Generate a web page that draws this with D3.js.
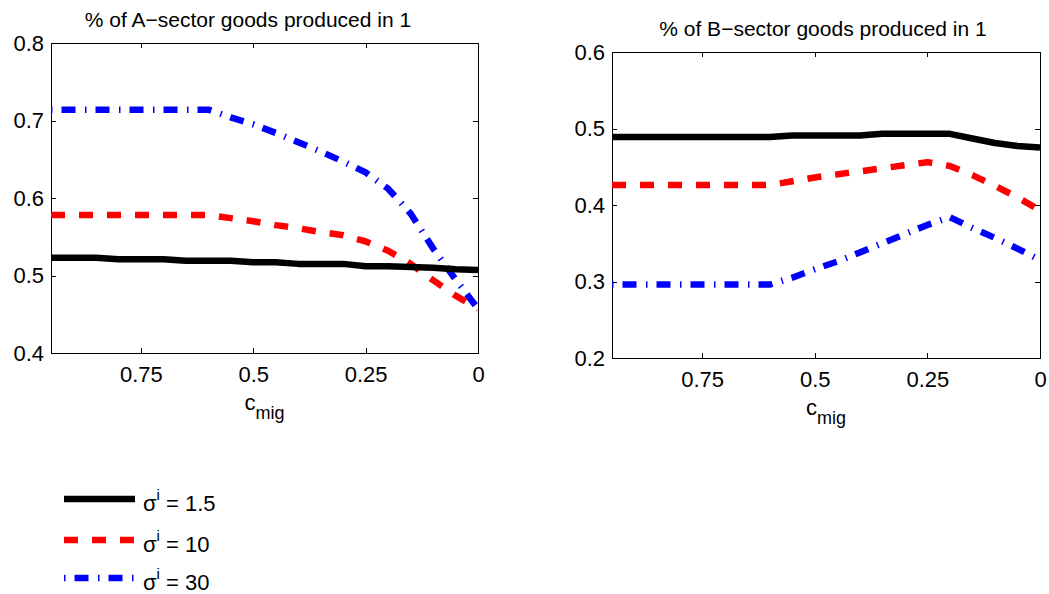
<!DOCTYPE html>
<html>
<head>
<meta charset="utf-8">
<script src="https://cdn.jsdelivr.net/npm/d3@7"></script>
<style>
    body { margin: 0; background: #fff; }
    svg { display: block; font-family: "Liberation Sans", Arial, Helvetica, sans-serif; }
    .axis path, .axis line { stroke: #000; stroke-width: 1; shape-rendering: crispEdges; }
    .axis text { fill: #000; font-size: 22px; font-family: "Liberation Sans", Arial, Helvetica, sans-serif; }
</style>
</head>
<body>
<div id="chart"></div>
<script>

// c_mig values (x axis, reversed: 0.95 on the left, 0 on the right)
var cmig = [0.95, 0.9, 0.85, 0.8, 0.75, 0.7, 0.65, 0.6, 0.55, 0.5,
            0.45, 0.4, 0.35, 0.3, 0.25, 0.2, 0.15, 0.1, 0.05, 0];

// % of A-sector goods produced in 1
var aSigma15 = [0.523, 0.523, 0.523, 0.521, 0.521, 0.521, 0.519, 0.519, 0.519, 0.517,
                0.517, 0.515, 0.515, 0.515, 0.512, 0.512, 0.511, 0.510, 0.508, 0.507];
var aSigma10 = [0.578, 0.578, 0.578, 0.578, 0.578, 0.578, 0.578, 0.578, 0.574, 0.570,
                0.565, 0.561, 0.556, 0.552, 0.544, 0.532, 0.515, 0.494, 0.474, 0.457];
var aSigma30 = [0.714, 0.714, 0.714, 0.714, 0.714, 0.714, 0.714, 0.714, 0.704, 0.695,
                0.684, 0.672, 0.660, 0.647, 0.633, 0.612, 0.580, 0.535, 0.495, 0.457];

// % of B-sector goods produced in 1
var bSigma15 = [0.489, 0.489, 0.489, 0.489, 0.489, 0.489, 0.489, 0.489, 0.491, 0.491,
                0.491, 0.491, 0.493, 0.493, 0.493, 0.493, 0.487, 0.481, 0.477, 0.475];
var bSigma10 = [0.426, 0.426, 0.426, 0.426, 0.426, 0.426, 0.426, 0.426, 0.431, 0.436,
                0.440, 0.444, 0.448, 0.452, 0.456, 0.451, 0.439, 0.425, 0.410, 0.393];
var bSigma30 = [0.296, 0.296, 0.296, 0.296, 0.296, 0.296, 0.296, 0.296, 0.305, 0.316,
                0.326, 0.338, 0.350, 0.362, 0.374, 0.384, 0.370, 0.357, 0.343, 0.328];

var sigmaLabels = ["1.5", "10", "30"];
var xTicks = [0.75, 0.5, 0.25, 0];
var yTicksA = [0.4, 0.5, 0.6, 0.7, 0.8];
var yTicksB = [0.2, 0.3, 0.4, 0.5, 0.6];

var lineStyles = [
    { color: "#000000", dash: null },
    { color: "#ff0000", dash: "14,14" },
    { color: "#0000ff", dash: "1.5,9,14,9.5" }
];

var svg = d3.select("#chart").append("svg")
    .attr("width", 1049)
    .attr("height", 594);

function drawPanel(opts) {
    var x = d3.scaleLinear().domain([0.95, 0]).range([opts.left, opts.right]),
        y = d3.scaleLinear().domain(opts.yDomain).range([opts.bottom, opts.top]);

    var g = svg.append("g");

    g.append("clipPath").attr("id", opts.id)
        .append("rect")
        .attr("x", opts.left).attr("y", opts.top)
        .attr("width", opts.right - opts.left)
        .attr("height", opts.bottom - opts.top);

    g.append("g").attr("class", "axis")
        .attr("transform", "translate(0," + opts.bottom + ")")
        .call(d3.axisBottom(x).tickValues(xTicks).tickSizeInner(-5).tickSizeOuter(0)
            .tickPadding(13).tickFormat(function(d) { return String(d); }));
    g.append("g").attr("class", "axis")
        .attr("transform", "translate(0," + opts.top + ")")
        .call(d3.axisTop(x).tickValues(xTicks).tickSizeInner(-5).tickSizeOuter(0)
            .tickFormat(""));
    g.append("g").attr("class", "axis")
        .attr("transform", "translate(" + opts.left + ",0)")
        .call(d3.axisLeft(y).tickValues(opts.yTicks).tickSizeInner(-5).tickSizeOuter(0)
            .tickPadding(7).tickFormat(d3.format(".1f")));
    g.append("g").attr("class", "axis")
        .attr("transform", "translate(" + opts.right + ",0)")
        .call(d3.axisRight(y).tickValues(opts.yTicks).tickSizeInner(-5).tickSizeOuter(0)
            .tickFormat(""));

    var line = d3.line()
        .x(function(d, i) { return x(cmig[i]); })
        .y(function(d) { return y(d); });

    // draw in reverse so black ends up on top
    for (var i = opts.series.length - 1; i >= 0; i--) {
        g.append("path")
            .attr("clip-path", "url(#" + opts.id + ")")
            .attr("d", line(opts.series[i]))
            .attr("fill", "none")
            .attr("stroke", lineStyles[i].color)
            .attr("stroke-width", 6.5)
            .attr("stroke-linejoin", "round")
            .attr("stroke-dasharray", lineStyles[i].dash);
    }

    g.append("text")
        .attr("x", opts.titleX)
        .attr("y", opts.top - 16)
        .attr("text-anchor", "middle")
        .style("font-size", "21px")
        .text(opts.title);

    var xl = g.append("text")
        .attr("x", (opts.left + opts.right) / 2)
        .attr("y", opts.bottom + 57)
        .attr("text-anchor", "middle")
        .style("font-size", "22px");
    xl.append("tspan").text("c");
    xl.append("tspan").attr("dy", 9).style("font-size", "18px").text("mig");
}

drawPanel({
    id: "clipA", left: 51, right: 478, top: 43, bottom: 353,
    yDomain: [0.4, 0.8], yTicks: yTicksA,
    series: [aSigma15, aSigma10, aSigma30],
    title: "% of A\u2212sector goods produced in 1", titleX: 248
});

drawPanel({
    id: "clipB", left: 612, right: 1040, top: 52, bottom: 358,
    yDomain: [0.2, 0.6], yTicks: yTicksB,
    series: [bSigma15, bSigma10, bSigma30],
    title: "% of B\u2212sector goods produced in 1", titleX: 823
});

// legend
var legendRows = [499, 540, 578];
var legend = svg.append("g");
sigmaLabels.forEach(function(lab, i) {
    legend.append("line")
        .attr("x1", 64).attr("x2", 135)
        .attr("y1", legendRows[i]).attr("y2", legendRows[i])
        .attr("stroke", lineStyles[i].color)
        .attr("stroke-width", 6.5)
        .attr("stroke-dasharray", lineStyles[i].dash);
    var t = legend.append("text")
        .attr("x", 143)
        .attr("y", legendRows[i] + 12)
        .style("font-size", "22px");
    t.append("tspan").text("\u03c3");
    t.append("tspan").attr("dy", -11).style("font-size", "15px").text("i");
    t.append("tspan").attr("dy", 11).text(" = " + lab);
});

</script>
</body>
</html>
